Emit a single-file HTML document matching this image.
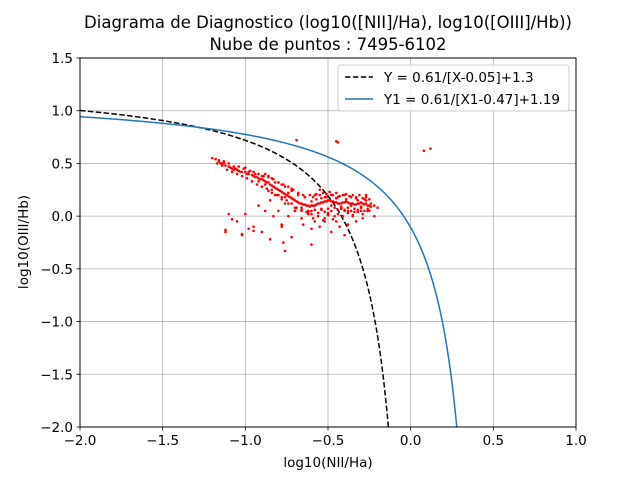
<!DOCTYPE html>
<html><head><meta charset="utf-8"><style>
body{margin:0;background:#fff;}
svg text{font-family:"DejaVu Sans","Liberation Sans",sans-serif;}
</style></head><body>
<svg id="chart" width="640" height="480" viewBox="0 0 640 480" xmlns="http://www.w3.org/2000/svg">
<rect width="640" height="480" fill="#fff"/>
<text x="328" y="28" font-size="16.5" text-anchor="middle">Diagrama de Diagnostico (log10([NII]/Ha), log10([OIII]/Hb))</text>
<text x="328" y="50" font-size="16.5" text-anchor="middle">Nube de puntos : 7495-6102</text>
<g id="grid"></g>
<g id="curves"></g>
<g id="points"></g>
<rect x="80" y="58" width="496" height="369" fill="none" stroke="#000" stroke-width="1"/>
<g id="ticks"></g>
<text x="328" y="467" font-size="13.5" text-anchor="middle">log10(NII/Ha)</text>
<text transform="translate(28,242) rotate(-90)" font-size="13.5" text-anchor="middle">log10(OIII/Hb)</text>
<g>
<rect x="338" y="65" width="231" height="46" rx="3" fill="#fff" fill-opacity="0.8" stroke="#ccc"/>
<line x1="345" y1="77" x2="373" y2="77" stroke="#000" stroke-width="1.5" stroke-dasharray="5.5,2.4"/>
<text x="384" y="82" font-size="13.5">Y = 0.61/[X-0.05]+1.3</text>
<line x1="345" y1="99" x2="373" y2="99" stroke="#1f77b4" stroke-width="1.5"/>
<text x="384" y="104" font-size="13.5">Y1 = 0.61/[X1-0.47]+1.19</text>
</g>
</svg>
<script>
const xTicks=[-2.0,-1.5,-1.0,-0.5,0.0,0.5,1.0];
const yTicks=[-2.0,-1.5,-1.0,-0.5,0.0,0.5,1.0,1.5];
const ptsX=[-1.2,-1.18,-1.16,-1.15,-1.13,-1.12,-1.1,-1.09,-1.08,-1.06,-1.05,-1.04,-1.02,-1.0,-0.99,-0.98,-0.96,-0.95,-0.94,-0.93,-0.92,-0.91,-0.9,-0.89,-0.88,-0.87,-0.86,-0.85,-0.84,-0.83,-0.82,-0.81,-0.8,-0.79,-0.78,-0.77,-0.76,-0.75,-0.74,-0.73,-0.72,-0.71,-0.7,-0.69,-0.68,-0.67,-0.66,-0.65,-0.64,-0.63,-0.62,-0.61,-0.6,-0.59,-0.58,-0.57,-0.56,-0.55,-0.54,-0.53,-0.52,-0.51,-0.5,-0.49,-0.48,-0.47,-0.46,-0.45,-0.44,-0.43,-0.42,-0.41,-0.4,-0.39,-0.38,-0.37,-0.36,-0.35,-0.34,-0.33,-0.32,-0.31,-0.3,-0.29,-0.28,-0.27,-0.26,-0.25,-0.24,-0.22,-0.2,
-1.14,-1.1,-1.07,-1.03,-1.0,-0.97,-0.94,-0.92,-0.9,-0.88,-0.86,-0.84,-0.82,-0.8,-0.78,-0.76,-0.74,-0.72,-0.7,-0.68,-0.66,-0.64,-0.62,-0.6,-0.58,-0.56,-0.54,-0.52,-0.5,-0.48,-0.46,-0.44,-0.42,-0.4,-0.38,-0.36,-0.34,-0.32,-0.3,-0.28,-0.26,
-1.1,-1.05,-1.0,-0.95,-0.92,-0.88,-0.85,-0.8,-0.78,-0.76,-0.74,-0.7,-0.66,-0.62,-0.58,-0.55,-0.5,-0.45,-0.4,-0.35,-0.3,-0.27,-0.22,
-1.12,-1.08,-1.02,-0.98,-0.9,-0.83,-0.78,-0.72,-0.65,-0.6,-0.55,-0.52,-0.48,-0.43,-0.38,-0.33,-0.29,-0.25,
-0.69,-0.45,-0.44,0.08,0.12,-1.12,-1.02,-0.77,-0.76,-0.6,-0.52,-0.4,-0.85,-0.95,
-1.17,-1.14,-1.11,-1.08,-1.05,-1.02,-0.99,-0.96,-0.93,-0.9,-0.87,-0.84,-0.81,-0.78,-0.75,-0.72,-0.69,-0.66,-0.63,
-1.16,-1.13,-1.1,-1.07,-1.04,-1.01,-0.98,-0.95,-0.92,-0.89,-0.86,-0.83,-0.8,-0.77,-0.74,-0.71,-0.68,-0.65,
-0.62,-0.6,-0.58,-0.56,-0.54,-0.52,-0.5,-0.48,-0.46,-0.44,-0.42,-0.4,-0.38,-0.36,-0.34,-0.32,-0.3,-0.28,-0.26,-0.24,
-0.61,-0.59,-0.57,-0.55,-0.53,-0.51,-0.49,-0.47,-0.45,-0.43,-0.41,-0.39,-0.37,-0.35,-0.33,-0.31,-0.29,-0.27,-0.25,
-0.6,-0.57,-0.54,-0.51,-0.48,-0.45,-0.42,-0.39,-0.36,-0.33,-0.3,-0.27,
-0.59,-0.56,-0.53,-0.5,-0.47,-0.44,-0.41,-0.38,-0.35,-0.32,-0.29,-0.26,
-0.9,-0.86,-0.82,-0.78,-0.74,-0.7,-0.66,-0.88,-0.84,-0.8,-0.76,-0.72,-0.68,-0.64];
const ptsY=[0.55,0.54,0.52,0.5,0.5,0.48,0.47,0.46,0.45,0.45,0.44,0.43,0.42,0.42,0.4,0.4,0.39,0.38,0.37,0.37,0.36,0.35,0.35,0.34,0.33,0.32,0.32,0.3,0.29,0.28,0.27,0.26,0.25,0.24,0.23,0.22,0.21,0.2,0.19,0.18,0.17,0.16,0.15,0.14,0.13,0.12,0.12,0.11,0.11,0.1,0.1,0.09,0.1,0.1,0.1,0.11,0.12,0.12,0.13,0.13,0.14,0.14,0.15,0.15,0.14,0.14,0.13,0.13,0.12,0.12,0.12,0.13,0.13,0.14,0.13,0.12,0.12,0.12,0.11,0.11,0.12,0.12,0.13,0.12,0.11,0.12,0.1,0.1,0.12,0.1,0.08,
0.5,0.47,0.44,0.42,0.46,0.43,0.4,0.33,0.38,0.3,0.37,0.25,0.32,0.2,0.3,0.18,0.22,0.26,0.05,0.2,0.08,0.18,0.02,0.05,0.2,0.0,0.06,0.18,0.02,0.2,0.0,0.18,0.08,0.2,0.05,0.18,0.04,0.15,0.08,0.16,0.05,
0.02,-0.05,0.02,-0.1,0.1,0.05,0.15,0.05,-0.08,0.12,0.0,0.05,-0.02,0.03,-0.05,0.25,0.03,-0.05,0.05,0.0,0.05,0.2,0.0,
-0.15,-0.03,-0.18,-0.12,-0.15,0.0,-0.1,-0.2,-0.08,-0.12,-0.1,-0.02,-0.15,-0.1,-0.08,-0.05,-0.02,0.05,
0.72,0.71,0.7,0.62,0.64,-0.13,-0.17,-0.25,-0.33,-0.27,-0.05,-0.18,-0.22,-0.14,
0.5,0.48,0.44,0.42,0.4,0.38,0.36,0.33,0.3,0.28,0.26,0.22,0.2,0.18,0.15,0.12,0.08,0.05,0.04,
0.53,0.52,0.5,0.47,0.47,0.45,0.42,0.42,0.4,0.38,0.38,0.35,0.32,0.3,0.28,0.25,0.22,0.2,
0.05,0.02,0.06,0.03,0.07,0.04,0.07,0.05,0.08,0.06,0.07,0.06,0.08,0.05,0.07,0.06,0.08,0.05,0.07,0.09,
0.2,0.18,0.21,0.2,0.22,0.21,0.23,0.2,0.22,0.19,0.2,0.21,0.19,0.2,0.18,0.2,0.17,0.18,0.16,
0.14,0.16,0.17,0.18,0.1,0.17,0.09,0.16,0.1,0.17,0.09,0.15,
-0.02,0.0,-0.04,0.01,-0.03,0.02,0.0,0.03,0.01,0.04,0.02,0.05,
0.28,0.24,0.2,0.16,0.12,0.08,0.06,0.4,0.36,0.32,0.28,0.24,0.22,0.18];
const xMin=-2,xMax=1,yMin=-2,yMax=1.5,L=80,R=576,T=58,B=427;
const sx=v=>L+(v-xMin)/(xMax-xMin)*(R-L);
const sy=v=>B-(v-yMin)/(yMax-yMin)*(B-T);
const NS='http://www.w3.org/2000/svg';
function mk(tag,attrs,parent){const e=document.createElementNS(NS,tag);for(const k in attrs)e.setAttribute(k,attrs[k]);parent.appendChild(e);return e;}
const grid=document.getElementById('grid'),ticks=document.getElementById('ticks');
xTicks.forEach(t=>{const x=sx(t);
 const g=mk('line',{x1:x,x2:x,y1:T,y2:B,stroke:'#b0b0b0','stroke-width':0.8},grid);
 
 
 mk('line',{x1:x,x2:x,y1:B,y2:B+3.5,stroke:'#000','stroke-width':0.8},ticks);
 const tx=mk('text',{x:x,y:B+18,'font-size':13.5,'text-anchor':'middle'},ticks);tx.textContent=t.toFixed(1).replace('-','\u2212');
 
 });
yTicks.forEach(t=>{const y=sy(t);
 const g=mk('line',{x1:L,x2:R,y1:y,y2:y,stroke:'#b0b0b0','stroke-width':0.8},grid);
 
 
 mk('line',{x1:L-3.5,x2:L,y1:y,y2:y,stroke:'#000','stroke-width':0.8},ticks);
 const tx=mk('text',{x:L-7,y:y+5,'font-size':13.5,'text-anchor':'end'},ticks);tx.textContent=t.toFixed(1).replace('-','\u2212');
 
 });
function curve(a,c,col,dash,name){let d='';const xend=a+0.61/(yMin-c);
 for(let i=0;i<=400;i++){const x=xMin+(xend-xMin)*i/400;const y=0.61/(x-a)+c;d+=(i?'L':'M')+sx(x).toFixed(2)+','+sy(Math.max(y,yMin)).toFixed(2);}
 const p=mk('path',{d:d,fill:'none',stroke:col,'stroke-width':1.5},document.getElementById('curves'));
 if(dash)p.setAttribute('stroke-dasharray',dash);
 
 }
const svg=document.getElementById('chart');
const clip=mk('clipPath',{id:'pc'},svg);mk('rect',{x:L,y:T,width:R-L,height:B-T},clip);
document.getElementById('curves').setAttribute('clip-path','url(#pc)');
curve(0.05,1.3,'#000','5.5,2.4','kauffmann-curve');
curve(0.47,1.19,'#1f77b4',null,'kewley-curve');
const pg=document.getElementById('points');
ptsX.forEach((x,i)=>{const c=mk('circle',{cx:sx(x),cy:sy(ptsY[i]),r:1.3,fill:'red'},pg);
 
 });
</script>
</body></html>
